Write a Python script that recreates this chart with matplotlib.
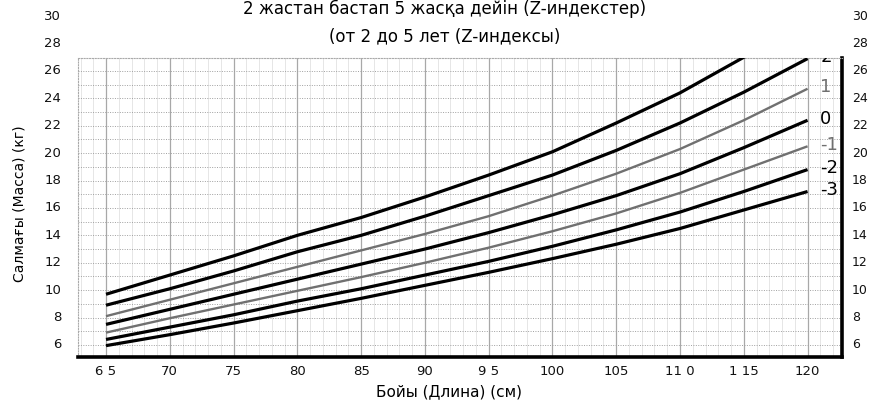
import matplotlib
matplotlib.use("Agg")
import matplotlib.pyplot as plt
import matplotlib.transforms as mtransforms
import numpy as np

# Длина (см) и Z-индексы массы (кг)
length_cm = [65, 70, 75, 80, 85, 90, 95, 100, 105, 110, 115, 120]
sd3 = [9.7, 11.1, 12.5, 14.0, 15.3, 16.8, 18.4, 20.1, 22.2, 24.4, 27.0, 29.8]
sd2 = [8.9, 10.1, 11.4, 12.8, 14.0, 15.4, 16.9, 18.4, 20.2, 22.2, 24.45, 26.9]
sd1 = [8.1, 9.3, 10.5, 11.7, 12.9, 14.1, 15.4, 16.9, 18.5, 20.3, 22.4, 24.7]
sd0 = [7.5, 8.6, 9.7, 10.8, 11.9, 13.0, 14.2, 15.5, 16.9, 18.5, 20.4, 22.4]
sd1_neg = [6.9, 7.95, 8.95, 9.95, 10.95, 12.0, 13.1, 14.3, 15.6, 17.1, 18.8, 20.5]
sd2_neg = [6.4, 7.3, 8.2, 9.2, 10.1, 11.1, 12.1, 13.2, 14.4, 15.7, 17.2, 18.8]
sd3_neg = [5.95, 6.75, 7.6, 8.5, 9.4, 10.35, 11.3, 12.3, 13.35, 14.5, 15.85, 17.2]

curves = [sd3, sd2, sd1, sd0, sd1_neg, sd2_neg, sd3_neg]
curve_names = ["3", "2", "1", "0", "-1", "-2", "-3"]

x_ticks = [65, 70, 75, 80, 85, 90, 95, 100, 105, 110, 115, 120]
x_labels = ["6 5", "70", "75", "80", "85", "90", "9 5", "100", "105", "11 0", "1 15", "120"]
y_ticks = [6, 8, 10, 12, 14, 16, 18, 20, 22, 24, 26, 28, 30]

fig = plt.figure(figsize=(8.72, 4.08), dpi=100)
ax = fig.add_axes([0.0894, 0.125, 0.8762, 0.733])
ax.set_xlim(62.8, 122.7)
ax.set_ylim(5.12, 26.95)

# сетка
ax.set_xticks(np.arange(63, 123, 1), minor=True)
ax.set_yticks(np.arange(6, 27, 1), minor=True)
ax.grid(which="minor", axis="x", color="#e2e2e2", linewidth=0.6)
ax.grid(which="minor", axis="y", color="#a0a0a0", linewidth=0.7, linestyle=(0, (1, 1.5)))
ax.set_xticks(x_ticks)
ax.grid(which="major", axis="x", color="#a8a8a8", linewidth=0.9)
ax.tick_params(which="both", length=0)
ax.set_yticks([])
ax.set_xticklabels(x_labels, fontsize=9.5)
ax.tick_params(axis="x", pad=6, colors="#111111")

for s in ["left", "top"]:
    ax.spines[s].set_color("#aaaaaa")
    ax.spines[s].set_linewidth(0.8)
    ax.spines[s].set_linestyle((0, (1, 1.5)))
for s in ["bottom", "right"]:
    ax.spines[s].set_color("black")
    ax.spines[s].set_linewidth(2.6)

# кривые
for vals, name in zip(curves, curve_names):
    gray = name in ("1", "-1")
    ax.plot(length_cm, vals, color="#707070" if gray else "black",
            lw=1.7 if gray else 2.3, solid_capstyle="butt", zorder=3)
    if name != "3":
        ax.text(121.0, vals[-1] + 0.1, name, fontsize=13,
                color="#707070" if gray else "black", ha="left", va="center",
                clip_on=True, zorder=4)

# подписи оси Y с обеих сторон
trans = mtransforms.blended_transform_factory(ax.transAxes, ax.transData)
for t in y_ticks:
    ax.text(-0.022, t, str(t), transform=trans, ha="right", va="center",
            fontsize=9.5, color="#111111", clip_on=False)
    ax.text(1.013, t, str(t), transform=trans, ha="left", va="center",
            fontsize=9, color="#111111", clip_on=False)

fig.text(0.515, 0.04, "Бойы (Длина) (см)", ha="center", va="center", fontsize=11)
fig.text(0.022, 0.5, "Салмағы (Масса) (кг)", rotation=90, ha="center",
         va="center", fontsize=10)
fig.text(0.51, 0.978, "2 жастан бастап 5 жасқа дейін (Z-индекстер)",
         ha="center", va="center", fontsize=12)
fig.text(0.51, 0.912, "(от 2 до 5 лет (Z-индексы)",
         ha="center", va="center", fontsize=12)

fig.savefig("out.png", dpi=100)
